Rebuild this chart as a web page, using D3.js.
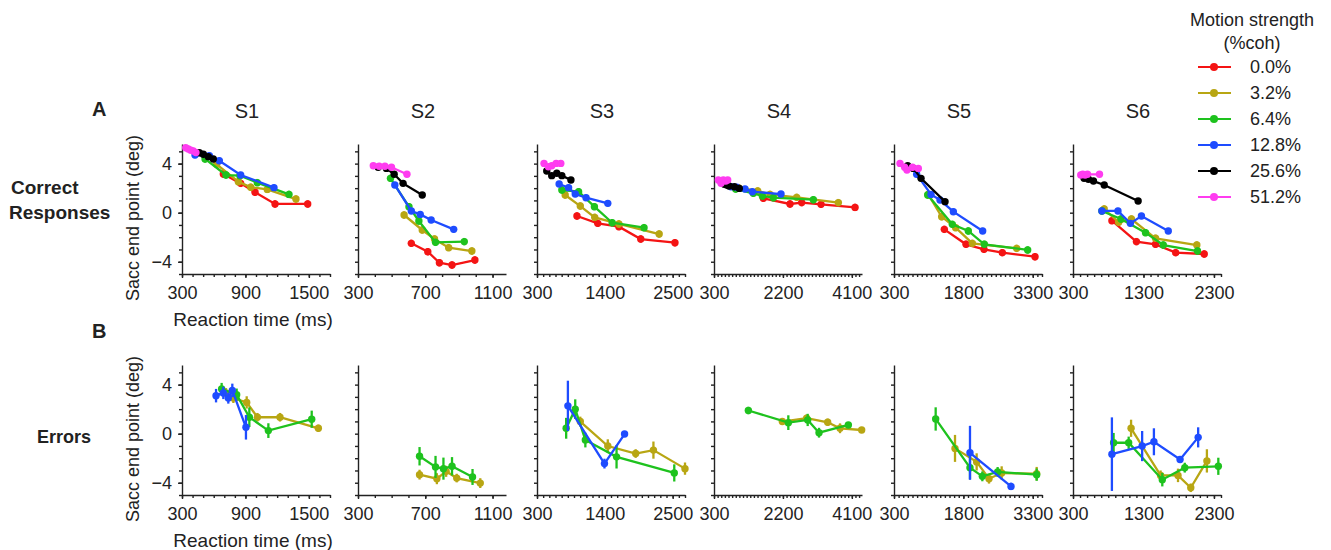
<!DOCTYPE html>
<html>
<head>
<meta charset="utf-8">
<script src="https://cdn.jsdelivr.net/npm/d3@7"></script>
<style>
  body { margin: 0; background: #fff; }
  svg text { font-family: "Liberation Sans", Arial, sans-serif; fill: #222; }
</style>
</head>
<body>
<svg id="chart" width="1331" height="550"></svg>
<script>
// ---- data ----
const subjects = ["S1", "S2", "S3", "S4", "S5", "S6"];
const cohLabels = ["0.0%", "3.2%", "6.4%", "12.8%", "25.6%", "51.2%"];
const cohColors = ["#f41414", "#b8a613", "#1ec21e", "#1e4cff", "#000000", "#ff3cf0"];
const xTickValues = [[300, 900, 1500], [300, 700, 1100], [300, 1400, 2500], [300, 2200, 4100], [300, 1800, 3300], [300, 1300, 2300]];
const xDomainMax = [1700, 1180, 2700, 4380, 3500, 2400];
const yDomain = [-5, 5.6];
const yTickValues = [-4, 0, 4];

// correct responses, rows = coherence 0, 3.2, 6.4, 12.8, 25.6, 51.2
const s1CorrRT = [[691, 855, 991, 1180, 1489], [628, 833, 950, 1107, 1378], [518, 716, 848, 1012, 1312], [423, 559, 653, 855, 1170], [464, 502, 549, 596], [335, 360, 383, 407, 432]];
const s1CorrEnd = [[3.15, 2.39, 1.66, 0.71, 0.71], [3.94, 2.53, 2.07, 1.9, 1.11], [4.38, 3.07, 3.02, 2.45, 1.49], [4.7, 4.65, 4.24, 3.07, 2.04], [4.89, 4.76, 4.57, 4.38], [5.3, 5.19, 5.1, 5.03, 4.9]];
const s2CorrRT = [[617, 715, 784, 859, 995], [574, 682, 755, 839, 977], [493, 603, 662, 761, 932], [519, 617, 670, 735, 869], [420, 469, 515, 568, 682], [391, 426, 460, 499, 591]];
const s2CorrEnd = [[-2.5, -3.18, -4.08, -4.27, -3.86], [-0.19, -1.41, -2.15, -2.85, -3.13], [2.8, 0.49, -0.68, -2.42, -2.36], [2.26, 0.14, -0.14, -0.6, -1.36], [3.7, 3.61, 3.13, 2.39, 1.44], [3.83, 3.78, 3.78, 3.7, 3.13]];
const s3CorrRT = [[948, 1285, 1628, 1982, 2537], [757, 1002, 1236, 1628, 2281], [703, 975, 1231, 1519, 2036], [659, 812, 920, 1095, 1448], [458, 539, 621, 703, 850], [414, 485, 539, 610, 686]];
const s3CorrEnd = [[-0.27, -0.87, -1.14, -2.15, -2.45], [1.44, 0.54, -0.38, -0.92, -1.74], [1.85, 1.71, 0.49, -0.82, -1.22], [2.34, 2.04, 1.52, 1.22, 0.76], [3.4, 3.02, 3.21, 3.02, 2.66], [4.02, 3.75, 3.83, 4.02, 4.02]];
const s4CorrRT = [[1660, 2395, 2717, 3250, 4188], [971, 1504, 1844, 2579, 3728], [897, 1384, 1633, 1936, 3039], [769, 925, 1155, 1357, 2147], [585, 650, 714, 861, 998], [419, 493, 557, 622, 677]];
const s4CorrEnd = [[1.17, 0.71, 0.82, 0.68, 0.43], [2.04, 1.77, 1.49, 1.25, 0.82], [1.93, 1.58, 1.36, 1.22, 1.06], [2.12, 2.07, 1.93, 1.71, 1.52], [2.31, 2.25, 2.17, 2.12, 1.98], [2.66, 2.39, 2.66, 2.58, 2.66]];
const s5CorrRT = [[1388, 1857, 2246, 2642, 3349], [1042, 1331, 1633, 1994, 2952], [1028, 1561, 1907, 2253, 3190], [790, 1100, 1295, 1583, 2217], [596, 718, 884, 1403], [430, 530, 580, 700, 826]];
const s5CorrEnd = [[-1.36, -2.58, -2.99, -3.26, -3.59], [1.49, -0.33, -1.22, -2.5, -2.91], [1.44, -0.95, -1.49, -2.58, -3.04], [3.13, 1.49, 1.03, 0.08, -1.49], [3.83, 3.61, 2.8, 0.9], [4.02, 3.7, 3.48, 3.7, 3.61]];
const s6CorrRT = [[852, 1200, 1471, 1757, 2162], [743, 948, 1129, 1471, 2057], [710, 981, 1329, 1581, 2067], [710, 938, 1114, 1271, 1652], [457, 519, 590, 743, 1224], [410, 438, 471, 505, 676]];
const s6CorrEnd = [[-0.65, -2.36, -2.58, -3.26, -3.37], [0.3, -0.79, -0.52, -2.09, -2.64], [0.14, -0.52, -1.63, -2.64, -3.13], [0.14, 0.14, -0.87, -0.27, -1.49], [2.8, 2.72, 2.58, 2.26, 0.95], [3.07, 3.13, 3.07, 3.13, 3.13]];
// error bar half-length (deg) for the correct trials, per coherence
const corrSE = [0.3, 0.3, 0.3, 0.25, 0, 0];

// errors, only 3.2, 6.4, 12.8 % exist
const s1ErrRT = [null, [716, 786, 912, 1013, 1227, 1590], [675, 817, 937, 1117, 1527], [622, 691, 738, 776, 905]];
const s1ErrEnd = [null, [3.32, 2.9, 2.55, 1.34, 1.34, 0.44], [3.64, 3.18, 1.34, 0.25, 1.18], [3.1, 3.32, 2.9, 3.53, 0.52]];
const s1ErrSE = [null, [0.4, 0.4, 0.5, 0.35, 0.35, 0.3], [0.5, 0.5, 0.8, 0.6, 0.7], [0.55, 0.5, 0.45, 0.55, 1.0]];
const s2ErrRT = [null, [666, 769, 824, 887, 1027], [666, 761, 808, 859, 981], null];
const s2ErrEnd = [null, [-3.34, -3.67, -3.07, -3.62, -4.03], [-1.84, -2.71, -2.85, -2.66, -3.53], null];
const s2ErrSE = [null, [0.4, 0.45, 0.45, 0.35, 0.4], [0.75, 0.9, 0.9, 0.75, 0.65], null];
const s3ErrRT = [null, [1002, 1448, 1900, 2188, 2700], [773, 920, 1084, 1590, 2526], [801, 1394, 1720]];
const s3ErrEnd = [null, [0.99, -1.01, -1.62, -1.34, -2.85], [0.44, 2.0, -0.52, -1.89, -3.2], [2.27, -2.44, -0.03]];
const s3ErrSE = [null, [0.4, 0.55, 0.35, 0.7, 0.5], [0.85, 0.8, 0.6, 0.95, 0.7], [2.05, 0.4, 0.15]];
const s4ErrRT = [null, [2184, 2855, 3434, 3774, 4371], [1247, 2349, 2883, 3195, 4004], null];
const s4ErrEnd = [null, [0.99, 1.26, 0.93, 0.44, 0.3], [1.89, 0.9, 1.12, 0.08, 0.71], null];
const s4ErrSE = [null, [0.2, 0.3, 0.3, 0.4, 0.2], [0.3, 0.6, 0.5, 0.4, 0.2], null];
const s5ErrRT = [null, [1619, 2087, 2354, 2628, 3385], [1201, 1943, 2210, 2541, 3385], [1943, 2830]];
const s5ErrEnd = [null, [-1.2, -2.3, -3.67, -3.21, -3.26], [1.2, -2.77, -3.48, -3.12, -3.34], [-1.56, -4.3]];
const s5ErrSE = [null, [1.1, 0.7, 0.4, 0.55, 0.55], [0.95, 0.95, 0.4, 0.4, 0.5], [2.2, 0.3]];
const s6ErrRT = [null, [1124, 1543, 1790, 1971, 2200], [876, 1090, 1567, 1886, 2362], [852, 1281, 1448, 1819, 2076]];
const s6ErrEnd = [null, [0.44, -3.4, -3.4, -4.41, -2.22], [-0.74, -0.74, -3.75, -2.77, -2.66], [-1.67, -1.01, -0.66, -2.11, -0.3]];
const s6ErrSE = [null, [0.7, 0.4, 0.55, 0.35, 0.95], [0.8, 0.5, 0.55, 0.4, 0.7], [3.0, 1.23, 1.1, 0.2, 0.82]];

const corrRT = [s1CorrRT, s2CorrRT, s3CorrRT, s4CorrRT, s5CorrRT, s6CorrRT];
const corrEnd = [s1CorrEnd, s2CorrEnd, s3CorrEnd, s4CorrEnd, s5CorrEnd, s6CorrEnd];
const errRT = [s1ErrRT, s2ErrRT, s3ErrRT, s4ErrRT, s5ErrRT, s6ErrRT];
const errEnd = [s1ErrEnd, s2ErrEnd, s3ErrEnd, s4ErrEnd, s5ErrEnd, s6ErrEnd];
const errSE = [s1ErrSE, s2ErrSE, s3ErrSE, s4ErrSE, s5ErrSE, s6ErrSE];

// ---- layout ----
const svg = d3.select('#chart');
const panelLeft = [182, 358, 537, 714, 894, 1073];
const panelW = 148, panelH = 130;
const rowTop = [144, 365];

function drawPanel(row, i) {
    const g = svg.append('g').attr('transform', `translate(${panelLeft[i]},${rowTop[row]})`);
    const x = d3.scaleLinear().domain([300, xDomainMax[i]]).range([0, panelW]);
    const y = d3.scaleLinear().domain(yDomain).range([panelH, 0]);

    // minor ticks
    g.append('g').attr('class', 'ax').attr('transform', `translate(0,${panelH})`)
        .call(d3.axisBottom(x).tickValues(d3.range(300, xDomainMax[i] + 1, 100)).tickSize(3).tickSizeOuter(0).tickFormat(''));
    g.append('g').attr('class', 'ax')
        .call(d3.axisLeft(y).tickValues(d3.range(-5, 6, 1)).tickSize(3).tickSizeOuter(0).tickFormat(''));

    // labelled ticks
    const xa = g.append('g').attr('class', 'ax lab').attr('transform', `translate(0,${panelH})`)
        .call(d3.axisBottom(x).tickValues(xTickValues[i]).tickSize(4).tickPadding(8).tickFormat(d3.format('d')));
    xa.select('.domain').remove();
    xa.selectAll('text').style('font-size', '18px');
    if (i == 0) {
        const ya = g.append('g').attr('class', 'ax lab')
            .call(d3.axisLeft(y).tickValues(yTickValues).tickSize(4).tickPadding(6)
                .tickFormat(d => d < 0 ? '\u2212' + Math.abs(d) : d));
        ya.select('.domain').remove();
        ya.selectAll('text').style('font-size', '18px');
    }
    g.selectAll('.ax path, .ax line').attr('stroke', '#222').attr('stroke-width', 1.4);

    const rts = row == 0 ? corrRT[i] : errRT[i];
    const ends = row == 0 ? corrEnd[i] : errEnd[i];

    rts.forEach(function (rt, c) {
        if (!rt) return;
        const pts = rt.map(function (d, k) {
            const se = row == 0 ? corrSE[c] : errSE[i][c][k];
            return { x: d, y: ends[c][k], se: se };
        });
        const col = cohColors[c];
        g.append('path').datum(pts)
            .attr('fill', 'none').attr('stroke', col).attr('stroke-width', 2.3)
            .attr('d', d3.line().x(d => x(d.x)).y(d => y(d.y)));
        g.selectAll(null).data(pts.filter(d => d.se > 0)).enter().append('line')
            .attr('x1', d => x(d.x)).attr('x2', d => x(d.x))
            .attr('y1', d => y(d.y - d.se)).attr('y2', d => y(d.y + d.se))
            .attr('stroke', col).attr('stroke-width', 2.3);
        g.selectAll(null).data(pts).enter().append('circle')
            .attr('cx', d => x(d.x)).attr('cy', d => y(d.y)).attr('r', 3.7)
            .attr('fill', col);
    });

    if (row == 0) {
        svg.append('text').attr('x', panelLeft[i] + 65).attr('y', 118)
            .attr('text-anchor', 'middle').style('font-size', '20px').text(subjects[i]);
    }
}

[0, 1].forEach(function (row) {
    subjects.forEach(function (s, i) { drawPanel(row, i); });
    svg.append('text').attr('x', 253).attr('y', rowTop[row] + 182)
        .attr('text-anchor', 'middle').style('font-size', '19px').text('Reaction time (ms)');
    svg.append('text')
        .attr('transform', `translate(139,${rowTop[row] + 74}) rotate(-90)`)
        .attr('text-anchor', 'middle').style('font-size', '18px').text('Sacc end point (deg)');
});

// panel letters and row labels
svg.append('text').attr('x', 92).attr('y', 116).style('font-size', '20px').style('font-weight', 'bold').text('A');
svg.append('text').attr('x', 92).attr('y', 338).style('font-size', '20px').style('font-weight', 'bold').text('B');
svg.append('text').attr('x', 11).attr('y', 194).style('font-size', '19px').style('font-weight', 'bold').text('Correct');
svg.append('text').attr('x', 9).attr('y', 219).style('font-size', '19px').style('font-weight', 'bold').text('Responses');
svg.append('text').attr('x', 37).attr('y', 443).style('font-size', '18px').style('font-weight', 'bold').text('Errors');

// legend
const leg = svg.append('g');
leg.append('text').attr('x', 1252).attr('y', 26).attr('text-anchor', 'middle').style('font-size', '18px').text('Motion strength');
leg.append('text').attr('x', 1252).attr('y', 49).attr('text-anchor', 'middle').style('font-size', '18px').text('(%coh)');
const legRow = d3.scalePoint().domain(cohLabels).range([67, 197]);
cohLabels.forEach(function (lab, c) {
    const yy = legRow(lab);
    leg.append('line').attr('x1', 1198).attr('x2', 1231).attr('y1', yy).attr('y2', yy)
        .attr('stroke', cohColors[c]).attr('stroke-width', 2);
    leg.append('circle').attr('cx', 1214).attr('cy', yy).attr('r', 4).attr('fill', cohColors[c]);
    leg.append('text').attr('x', 1250).attr('y', yy + 6).style('font-size', '18px').text(lab);
});
</script>
</body>
</html>
